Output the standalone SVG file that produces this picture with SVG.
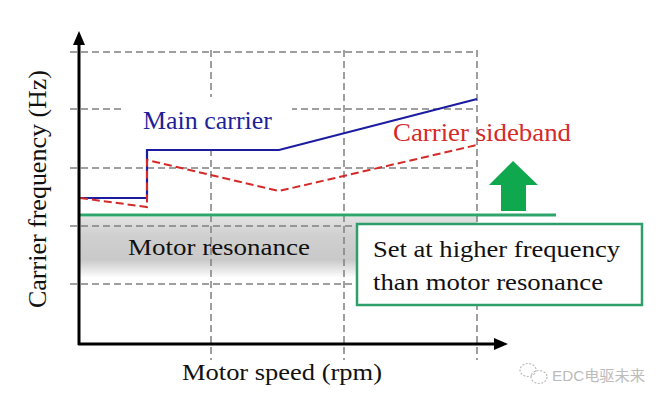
<svg xmlns="http://www.w3.org/2000/svg" width="667" height="403" viewBox="0 0 667 403">
<style>
.grid{stroke:#808080;stroke-width:1.5;stroke-dasharray:7 4;fill:none}
.axis{stroke:#000;stroke-width:3;fill:none}
text.s{font-family:'Liberation Serif','Times New Roman',Times,serif}
</style>
<defs>
<linearGradient id="res" x1="0" y1="0" x2="0" y2="1">
<stop offset="0" stop-color="#e2e2e2"/>
<stop offset="0.3" stop-color="#d0d0d0"/>
<stop offset="0.7" stop-color="#c9c9c9"/>
<stop offset="1" stop-color="#ffffff"/>
</linearGradient>
</defs>
<rect width="667" height="403" fill="#fff"/>
<g id="resonance-band">
<rect x="80" y="217" width="397" height="61" fill="url(#res)"/>
</g>
<g id="grid">
<line class="grid" x1="70" y1="52" x2="477" y2="52"/>
<line class="grid" x1="70" y1="109" x2="477" y2="109"/>
<line class="grid" x1="70" y1="168" x2="477" y2="168"/>
<line class="grid" x1="70" y1="226" x2="477" y2="226"/>
<line class="grid" x1="70" y1="284" x2="477" y2="284"/>
<line class="grid" x1="211" y1="50" x2="211" y2="360"/>
<line class="grid" x1="344" y1="50" x2="344" y2="360"/>
<line class="grid" x1="477" y1="50" x2="477" y2="360"/>
</g>
<g id="main-carrier-label">
<rect x="125" y="97" width="167" height="49" fill="#fff"/>
<text class="s" x="143" y="129" font-size="25" fill="#1f1f99" textLength="129" lengthAdjust="spacingAndGlyphs">Main carrier</text>
</g>
<g id="connectors">
<polyline points="80,198 147,198 147,150 279,150 477,99" fill="none" stroke="#1c1ca0" stroke-width="2.2"/>
<polyline points="80,198 147,207 147,160 279,191 477,145" fill="none" stroke="#d42a2a" stroke-width="2" stroke-dasharray="8 4"/>
<line x1="80" y1="215" x2="556" y2="215" stroke="#2ea56a" stroke-width="3"/>
<polygon points="513,161 538,185 526,185 526,211 501,211 501,185 489,185" fill="#0fa84f"/>
</g>
<g id="sideband-label">
<text class="s" x="393" y="141" font-size="25" fill="#d42a2a" textLength="178" lengthAdjust="spacingAndGlyphs">Carrier sideband</text>
</g>
<g id="axes">
<line class="axis" x1="79" y1="345" x2="79" y2="44"/>
<polygon points="79,31 73,45 85,45" fill="#000"/>
<line class="axis" x1="78" y1="344" x2="495" y2="344"/>
<polygon points="508,344 494,338 494,350" fill="#000"/>
</g>
<g id="motor-resonance-label">
<text class="s" x="128" y="255" font-size="24" fill="#111" textLength="182" lengthAdjust="spacingAndGlyphs">Motor resonance</text>
</g>
<g id="note-box">
<rect x="357" y="224" width="285" height="81" fill="#fff" stroke="#2e9e6a" stroke-width="2.5"/>
<text class="s" x="373" y="257" font-size="24" fill="#111" textLength="247" lengthAdjust="spacingAndGlyphs">Set at higher frequency</text>
<text class="s" x="373" y="290" font-size="24" fill="#111" textLength="230" lengthAdjust="spacingAndGlyphs">than motor resonance</text>
</g>
<g id="axis-labels">
<text class="s" x="182" y="380" font-size="24" fill="#111" textLength="200" lengthAdjust="spacingAndGlyphs">Motor speed (rpm)</text>
<text class="s" transform="translate(46,189) rotate(-90)" x="0" y="0" font-size="25" text-anchor="middle" fill="#111" textLength="238" lengthAdjust="spacingAndGlyphs">Carrier frequency (Hz)</text>
</g>
<g id="watermark">
<ellipse cx="528" cy="370" rx="8" ry="6.5" fill="none" stroke="#bbb" stroke-width="1.2" stroke-dasharray="2 1.5"/>
<ellipse cx="539" cy="377" rx="8" ry="6.5" fill="none" stroke="#bbb" stroke-width="1.2" stroke-dasharray="2 1.5"/>
<text x="552" y="381" font-size="15" font-family="'Liberation Sans', 'Noto Sans CJK SC', sans-serif" fill="#bbb" textLength="93" lengthAdjust="spacingAndGlyphs">EDC电驱未来</text>
</g>
</svg>
